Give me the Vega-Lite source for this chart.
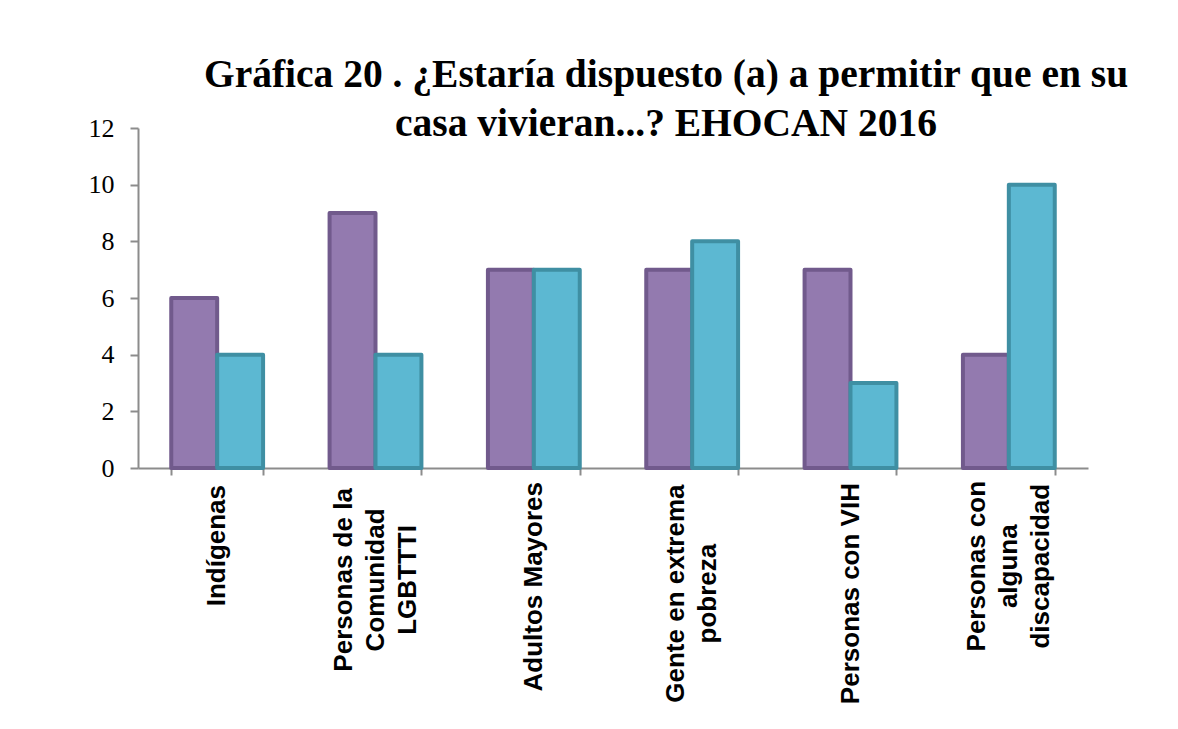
{
  "$schema": "https://vega.github.io/schema/vega-lite/v6.json",
  "width": 950,
  "height": 340,
  "autosize": {"type": "none"},
  "padding": {"left": 138, "top": 128, "right": 90, "bottom": 261},
  "background": "white",
  "title": {
    "text": ["Gráfica 20 . ¿Estaría dispuesto (a) a permitir que en su", "casa vivieran...? EHOCAN 2016"],
    "font": "Liberation Serif",
    "fontSize": 39.5,
    "fontWeight": "bold",
    "color": "black",
    "anchor": "middle",
    "dx": 53,
    "dy": 58,
    "lineHeight": 49,
    "baseline": "bottom",
    "offset": -10
  },
  "data": {
    "values": [
      {"categoria": "Indígenas", "serie": "Serie 1", "valor": 6},
      {"categoria": "Indígenas", "serie": "Serie 2", "valor": 4},
      {"categoria": "Personas de la\nComunidad\nLGBTTTI", "serie": "Serie 1", "valor": 9},
      {"categoria": "Personas de la\nComunidad\nLGBTTTI", "serie": "Serie 2", "valor": 4},
      {"categoria": "Adultos Mayores", "serie": "Serie 1", "valor": 7},
      {"categoria": "Adultos Mayores", "serie": "Serie 2", "valor": 7},
      {"categoria": "Gente en extrema\npobreza", "serie": "Serie 1", "valor": 7},
      {"categoria": "Gente en extrema\npobreza", "serie": "Serie 2", "valor": 8},
      {"categoria": "Personas con VIH", "serie": "Serie 1", "valor": 7},
      {"categoria": "Personas con VIH", "serie": "Serie 2", "valor": 3},
      {"categoria": "Personas con\nalguna\ndiscapacidad", "serie": "Serie 1", "valor": 4},
      {"categoria": "Personas con\nalguna\ndiscapacidad", "serie": "Serie 2", "valor": 10}
    ]
  },
  "encoding": {
    "x": {
      "field": "categoria",
      "type": "nominal",
      "sort": null,
      "scale": {"paddingInner": 0.42, "paddingOuter": 0.21},
      "axis": {
        "title": null,
        "labels": false,
        "domainColor": "#8C8C8C",
        "domainWidth": 2,
        "tickColor": "#8C8C8C",
        "tickWidth": 2,
        "tickSize": 7,
        "tickBand": "extent"
      }
    }
  },
  "layer": [
    {
      "mark": {"type": "bar", "strokeWidth": 4, "strokeJoin": "round"},
      "encoding": {
        "xOffset": {
          "field": "serie",
          "type": "nominal",
          "sort": null,
          "scale": {"paddingInner": 0, "paddingOuter": 0}
        },
        "y": {
          "field": "valor",
          "type": "quantitative",
          "scale": {"domain": [0, 12]},
          "axis": {
            "title": null,
            "values": [0, 2, 4, 6, 8, 10, 12],
            "grid": false,
            "labelFont": "Liberation Serif",
            "labelFontSize": 26,
            "labelColor": "black",
            "labelPadding": 16,
            "tickSize": 8,
            "tickWidth": 2,
            "tickColor": "#8C8C8C",
            "domainColor": "#8C8C8C",
            "domainWidth": 2
          }
        },
        "color": {
          "field": "serie",
          "type": "nominal",
          "scale": {"domain": ["Serie 1", "Serie 2"], "range": ["#937AAF", "#5CB8D2"]},
          "legend": null
        },
        "stroke": {
          "field": "serie",
          "type": "nominal",
          "scale": {"domain": ["Serie 1", "Serie 2"], "range": ["#715A8C", "#3F8FA3"]},
          "legend": null
        }
      }
    },
    {
      "transform": [{"filter": "datum.serie === 'Serie 1'"}],
      "mark": {
        "type": "text",
        "angle": 270,
        "align": "center",
        "baseline": "middle",
        "dx": {"expr": "-(16 + 6.85 * max(length(split(datum.categoria, '\\n')[0]), length(split(datum.categoria, '\\n')[1] || ''), length(split(datum.categoria, '\\n')[2] || '')))"},
        "dy": {"expr": "-(length(split(datum.categoria, '\\n')) - 1) * 16"},
        "font": "Liberation Sans",
        "fontSize": 26,
        "fontWeight": "bold",
        "color": "black",
        "lineHeight": 32,
        "lineBreak": "\n"
      },
      "encoding": {
        "y": {"datum": 0, "type": "quantitative"},
        "text": {"field": "categoria", "type": "nominal"}
      }
    }
  ],
  "config": {"view": {"stroke": null}}
}
